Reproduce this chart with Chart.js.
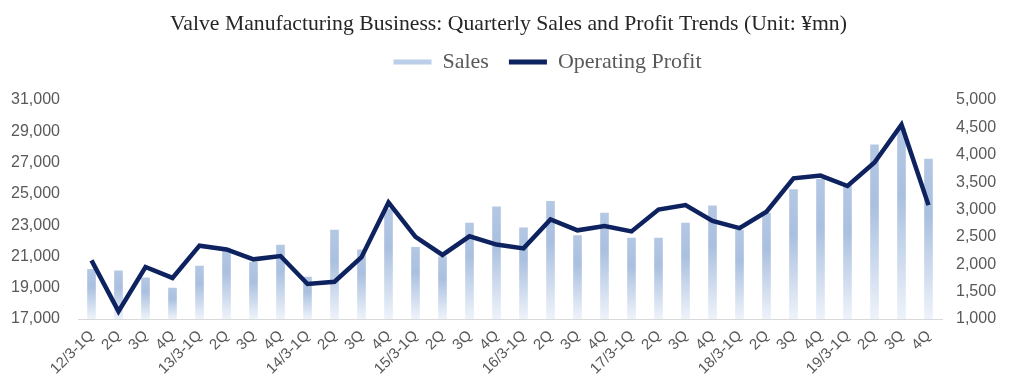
<!DOCTYPE html>
<html>
<head>
<meta charset="utf-8">
<script src="https://cdn.jsdelivr.net/npm/chart.js@4/dist/chart.umd.min.js"></script>
<style>
  body { margin: 0; background: #fff; }
  canvas { display: block; }
</style>
</head>
<body>
<canvas id="chart" width="1017" height="389"></canvas>
<script>
const quarters = [
  "12/3-1Q", "2Q", "3Q", "4Q",
  "13/3-1Q", "2Q", "3Q", "4Q",
  "14/3-1Q", "2Q", "3Q", "4Q",
  "15/3-1Q", "2Q", "3Q", "4Q",
  "16/3-1Q", "2Q", "3Q", "4Q",
  "17/3-1Q", "2Q", "3Q", "4Q",
  "18/3-1Q", "2Q", "3Q", "4Q",
  "19/3-1Q", "2Q", "3Q", "4Q"
];
const sales = [
  20200, 20100, 19650, 19000,
  20400, 21550, 20650, 21750,
  19700, 22700, 21450, 24050,
  21600, 21000, 23150, 24200,
  22850, 24550, 22350, 23800,
  22200, 22200, 23150, 24250,
  22700, 23800, 25300, 25950,
  25550, 28150, 29200, 27250
];
const operatingProfit = [
  2070, 1140, 1950, 1750,
  2340, 2270, 2090, 2150,
  1640, 1680, 2130, 3130,
  2500, 2170, 2510, 2360,
  2290, 2820, 2620, 2700,
  2600, 3000, 3080, 2790,
  2660, 2960, 3570, 3620,
  3430, 3860, 4550, 3080
];
const salesTicks = [17000, 31000, 2000];
const profitTicks = [1000, 5000, 500];

const tickGrey = "#595959";
const navy = "#0d225e";
const serif = "'Liberation Serif', 'Times New Roman', serif";
const sans = "'Liberation Sans', Arial, sans-serif";

function barFill(ctx) {
  const chart = ctx.chart;
  const area = chart.chartArea;
  if (!area) return "#b3c7e3";
  const top = chart.scales.y.getPixelForValue(ctx.raw);
  const g = chart.ctx.createLinearGradient(0, top, 0, area.bottom);
  g.addColorStop(0, "#b4c8e4");
  g.addColorStop(0.35, "#aac0df");
  g.addColorStop(1, "#eef3fa");
  return g;
}

// push the plot down below the legend, and nudge the legend right like the original
const legendTweak = {
  id: "legendTweak",
  beforeInit(chart) {
    const fit = chart.legend.fit;
    chart.legend.fit = function () {
      fit.bind(chart.legend)();
      this.height += 17;
    };
  },
  afterLayout(chart) {
    chart.legend.left += 39;
    chart.legend.right += 39;
  }
};

new Chart(document.getElementById("chart"), {
  data: {
    labels: quarters,
    datasets: [
      {
        type: "line",
        label: "Operating Profit",
        data: operatingProfit,
        yAxisID: "y1",
        borderColor: navy,
        borderWidth: 4.5,
        pointRadius: 0,
        tension: 0,
        order: 0
      },
      {
        type: "bar",
        label: "Sales",
        data: sales,
        yAxisID: "y",
        backgroundColor: barFill,
        barPercentage: 0.32,
        categoryPercentage: 1,
        order: 1
      }
    ]
  },
  options: {
    responsive: false,
    devicePixelRatio: 1,
    animation: false,
    plugins: {
      title: {
        display: true,
        text: "Valve Manufacturing Business: Quarterly Sales and Profit Trends (Unit: ¥mn)",
        color: "#262626",
        font: { family: serif, size: 21.7, weight: "normal" },
        padding: { top: 11, bottom: -6 }
      },
      legend: {
        labels: {
          color: tickGrey,
          font: { family: serif, size: 22 },
          boxWidth: 38,
          boxHeight: 5,
          padding: 20,
          generateLabels: () => [
            { text: "Sales", fillStyle: "#bccfe8", strokeStyle: "#bccfe8", lineWidth: 0, fontColor: tickGrey },
            { text: "Operating Profit", fillStyle: navy, strokeStyle: navy, lineWidth: 0, fontColor: tickGrey }
          ]
        }
      },
      tooltip: { enabled: false }
    },
    scales: {
      x: {
        offset: true,
        grid: { display: false },
        border: { color: "#d9d9d9", width: 1 },
        ticks: {
          color: tickGrey,
          font: { family: sans, size: 15 },
          maxRotation: 45,
          minRotation: 45,
          autoSkip: false,
          padding: 0
        },
        afterFit(scale) { scale.height = 70; }
      },
      y: {
        position: "left",
        min: salesTicks[0],
        max: salesTicks[1],
        grid: { display: false },
        border: { display: false },
        ticks: {
          stepSize: salesTicks[2],
          color: tickGrey,
          padding: 10,
          font: { family: sans, size: 16 },
          callback: v => v.toLocaleString("en-US")
        },
        afterFit(scale) { scale.width = 78; }
      },
      y1: {
        position: "right",
        min: profitTicks[0],
        max: profitTicks[1],
        grid: { display: false },
        border: { display: false },
        ticks: {
          stepSize: profitTicks[2],
          color: tickGrey,
          padding: 6,
          font: { family: sans, size: 16 },
          callback: v => v.toLocaleString("en-US")
        },
        afterFit(scale) { scale.width = 75; }
      }
    }
  },
  plugins: [legendTweak]
});
</script>
</body>
</html>
